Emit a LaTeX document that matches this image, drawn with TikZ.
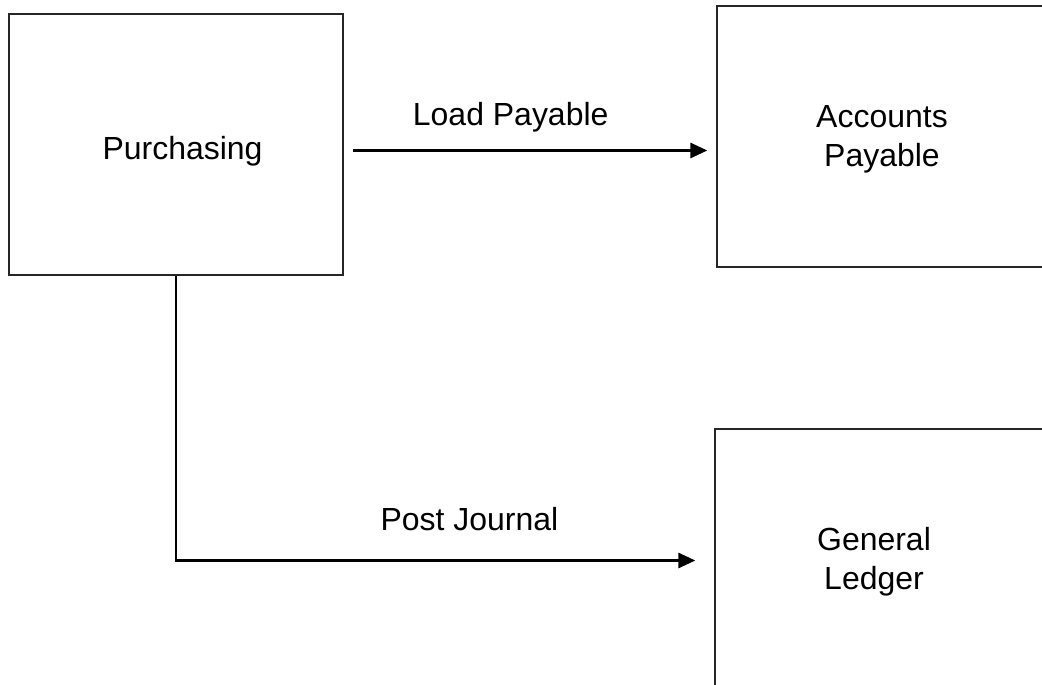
\documentclass[tikz,border=0pt]{standalone}
\usepackage{fontspec}
\setmainfont{Liberation Sans}
\usetikzlibrary{arrows.meta}
\tikzset{
  box/.style={draw=black!85,line width=0.026cm,inner sep=0pt,
    minimum width=6.6cm,minimum height=5.22cm},
  boxtext/.style={align=center,inner sep=0pt,font=\fontsize{18.2pt}{22.2pt}\selectfont},
  flow/.style={line width=0.055cm,-{Triangle[length=0.34cm,width=0.3cm]}},
  lbl/.style={anchor=base,inner sep=0pt,font=\fontsize{18.2pt}{22.2pt}\selectfont}
}
\begin{document}
\begin{tikzpicture}[x=0.02cm,y=-0.02cm]
    \useasboundingbox (0,0) rectangle (1042,685);
    \clip (0,0) rectangle (1042,685);

    \node[box,minimum width=6.68cm,
      label={[boxtext,xshift=0.13cm,yshift=-0.125cm]center:Purchasing}] (Pur) at (176,144.5) {};
    \node[box,
      label={[boxtext,yshift=-0.06cm]center:Accounts\\Payable}] (AP) at (882,136.5) {};
    \node[box,
      label={[boxtext,xshift=-0.12cm,yshift=-0.04cm]center:General\\Ledger}] (GL) at (880,559.5) {};

    \coordinate (LP) at (353,150.5);
    \coordinate (PJ) at (176,560.5);

    \draw[flow,shorten >=0.18cm] (LP) -- (AP.west |- LP)
      node[lbl,pos=0.434,yshift=0.49cm] (LPtext) {Load Payable};
    \draw[flow,shorten >=0.38cm] (Pur.south) -- (PJ) -- (GL.west |- PJ)
      node[lbl,pos=0.545,yshift=0.61cm] (PJtext) {Post Journal};
\end{tikzpicture}
\end{document}
